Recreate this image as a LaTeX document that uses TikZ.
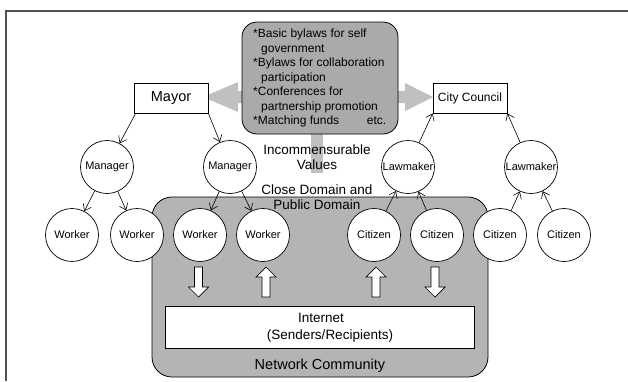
\documentclass[tikz,border=0pt]{standalone}
\usepackage{fontspec}
\setmainfont{Liberation Sans}
\usetikzlibrary{arrows.meta}
\definecolor{netgray}{RGB}{180,180,180}
\definecolor{boxgray}{RGB}{170,170,170}
\definecolor{arrgray}{RGB}{192,192,192}
\definecolor{framegray}{RGB}{80,80,80}
\tikzset{
  fs/.style={font=\fontsize{#1}{#1}\selectfont},
  circ/.style={circle, draw, fill=white, minimum size=53pt, inner sep=0pt, line width=0.7pt, fs=11},
  rectbox/.style={rectangle, draw, fill=white, minimum height=30pt, minimum width=74pt, inner sep=0pt, line width=0.8pt},
  link/.style={draw, line width=0.6pt, -{Straight Barb[length=6pt,width=9pt]}},
  bdown/.pic={\draw[fill=white, line width=0.7pt] (-4,-15) -- (-4,5) -- (-10,5) -- (0,15) -- (10,5) -- (4,5) -- (4,-15) -- cycle;},
  bup/.pic={\draw[fill=white, line width=0.7pt] (-4,15) -- (-4,-5) -- (-10,-5) -- (0,-15) -- (10,-5) -- (4,-5) -- (4,15) -- cycle;},
}
\begin{document}
\begin{tikzpicture}[x=1pt, y=-1pt]
\useasboundingbox (0,0) rectangle (628,381);
% frame
\draw[framegray, line width=1.5pt] (5,11) -- (628,11);
\draw[framegray, line width=1.5pt] (6,11) -- (6,381);

% network community
\draw[fill=netgray, line width=0.8pt, rounded corners=20pt] (152,197) rectangle (488,377);
\node[rectangle, draw, fill=white, line width=0.8pt, minimum width=309pt, minimum height=42pt, inner sep=0pt] (internet) at (319.5,327) {};
\node[align=center, font=\fontsize{13.5}{17}\selectfont] (inttext) at (330,328) {\hspace*{-18pt}Internet\\(Senders/Recipients)};
\node[fs=14.5] (nc) at (320,366) {Network Community};

% gray arrows and bar
\fill[arrgray] (311,130) rectangle (323,173);
\fill[arrgray] (246,91) -- (238,91) -- (238,82) -- (203,97) -- (238,112) -- (238,103) -- (246,103) -- cycle;
\fill[arrgray] (394,91) -- (405,91) -- (405,83) -- (433,97) -- (405,111) -- (405,103) -- (394,103) -- cycle;

% top box
\draw[fill=boxgray, line width=0.8pt, rounded corners=15pt] (242,22) rectangle (398,134);
\node[anchor=north west, align=left, inner sep=0pt, font=\fontsize{12}{14.5}\selectfont] (bylaws) at (253,29)
 {*Basic bylaws for self\\
  \hspace*{8pt}government\\
  *Bylaws for collaboration\\
  \hspace*{8pt}participation\\
  *Conferences for\\
  \hspace*{8pt}partnership promotion\\
  \makebox[133pt][l]{*Matching funds\hfill etc.}};

\node[align=center, font=\fontsize{13.5}{15}\selectfont] (incomm) at (317,157) {Incommensurable\\Values};
\node[align=center, font=\fontsize{13.5}{15}\selectfont] (domain) at (317,197) {Close Domain and\\Public Domain};

% boxes
\node[rectbox, fs=14.5] (mayor) at (171,98) {Mayor};
\node[rectbox, fs=12] (council) at (470,98) {City Council};

% circles
\node[circ] (m1) at (107,167) {Manager};
\node[circ] (m2) at (230,167) {Manager};
\node[circ] (l1) at (408,167) {Lawmaker};
\node[circ] (l2) at (531,167) {Lawmaker};
\node[circ] (w1) at (72,235) {Worker};
\node[circ] (w2) at (137,235) {Worker};
\node[circ] (w3) at (200,235) {Worker};
\node[circ] (w4) at (263,235) {Worker};
\node[circ] (c1) at (374,235) {Citizen};
\node[circ] (c2) at (437,235) {Citizen};
\node[circ] (c3) at (500,235) {Citizen};
\node[circ] (c4) at (564,235) {Citizen};

% connectors
\path[link] ([xshift=2pt]mayor.south west) -- (m1);
\path[link] (mayor.south east) -- (m2);
\path[link] (m1) -- (w1);
\path[link] (m1) -- (w2);
\path[link] (m2) -- (w3);
\path[link] (m2) -- (w4);
\path[link] (c1) -- (l1);
\path[link] (c2) -- (l1);
\path[link] (c3) -- (l2);
\path[link] (c4) -- (l2);
\path[link] (l1) -- (council.south west);
\path[link] (l2) -- (council.south east);

% block arrows
\pic (d1) at (198.5,282) {bdown};
\pic (u1) at (266,282) {bup};
\pic (u2) at (376,282) {bup};
\pic (d2) at (435,282) {bdown};
\end{tikzpicture}
\end{document}
